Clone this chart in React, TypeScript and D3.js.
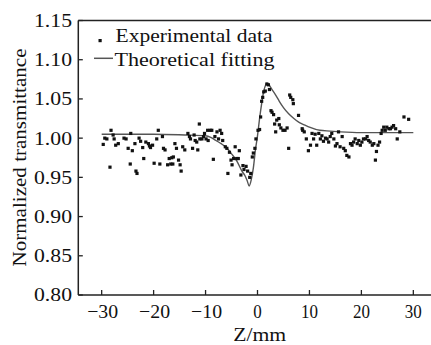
import React from "react";
import * as d3 from "d3";

const expX = [
  -29.7, -29.4, -29.0, -28.4, -28.2, -27.8, -27.6, -27.3, -26.8, -25.7, -25.3, -24.9, -24.5, -24.4, -24.1,
  -23.6, -23.4, -23.2, -22.8, -22.5, -22.1, -21.9, -21.5, -21.0, -20.8, -20.6, -20.2, -19.9, -19.4, -19.1,
  -18.8, -18.3, -18.1, -17.8, -17.3, -17.0, -16.7, -16.5, -16.3, -16.2, -15.9, -15.6, -15.2, -14.9, -14.7,
  -14.4, -14.0, -13.4, -13.1, -12.9, -12.5, -12.2, -12.0, -11.7, -11.5, -11.2, -11.1, -10.7, -10.4, -10.2,
  -9.9, -9.6, -9.5, -9.1, -8.8, -8.5, -8.2, -7.8, -7.5, -7.2, -6.9, -6.7, -6.2, -5.9, -5.7,
  -5.4, -5.1, -4.9, -4.6, -4.3, -4.0, -3.7, -3.5, -3.2, -2.8, -2.6, -2.2, -1.9, -1.5, -1.3,
  -1.0, -0.8, -0.5, -0.3, 0.1, 0.4, 0.6, 0.8, 1.0, 1.2, 1.5, 1.8, 2.1, 2.3, 2.6,
  2.8, 3.1, 3.3, 3.5, 3.7, 4.1, 4.2, 4.5, 4.9, 5.3, 5.7, 6.0, 6.2, 6.4, 6.8,
  6.9, 7.9, 8.6, 8.7, 9.0, 9.4, 9.8, 10.2, 10.5, 10.8, 11.1, 11.4, 11.8, 12.1, 12.4,
  12.7, 13.1, 13.4, 13.7, 14.0, 14.3, 14.7, 15.0, 15.3, 15.6, 15.9, 16.3, 16.6, 16.9, 17.2,
  17.6, 17.9, 18.2, 18.5, 18.8, 19.2, 19.5, 19.8, 20.1, 20.4, 20.8, 21.1, 21.4, 21.7, 22.1,
  22.4, 22.7, 22.9, 23.2, 23.5, 23.8, 24.0, 24.3, 24.6, 24.9, 25.3, 25.6, 25.9, 26.2, 26.6,
  26.9, 27.4, 28.2, 29.1,
];

const expY = [
  0.992, 1.0, 0.999, 0.963, 1.01, 1.004, 0.999, 0.991, 0.993, 1.0, 0.999, 0.987, 0.967, 1.006, 0.984,
  0.993, 0.958, 0.955, 1.0, 0.996, 0.988, 0.974, 0.995, 0.993, 0.99, 0.988, 0.991, 0.968, 0.999, 1.01,
  0.967, 1.002, 0.987, 0.985, 0.966, 0.974, 0.967, 0.975, 0.967, 0.976, 0.993, 0.987, 0.972, 0.966, 0.958,
  0.989, 0.985, 1.006, 1.002, 0.999, 0.987, 1.004, 0.997, 0.995, 0.985, 1.018, 0.999, 0.999, 1.002, 1.006,
  0.999, 1.01, 0.997, 1.01, 1.01, 0.973, 1.002, 1.008, 0.999, 1.01, 1.006, 0.997, 0.989, 0.987, 0.955,
  0.982, 0.972, 0.966, 0.974, 0.989, 0.974, 0.974, 0.984, 0.953, 0.965, 0.96, 0.964, 0.958, 0.95, 0.955,
  0.976, 0.981, 0.987, 0.999, 1.01, 1.011, 1.027, 1.047, 1.052, 1.059, 1.06, 1.069, 1.068, 1.062, 1.035,
  1.033, 1.03, 1.018, 1.008, 1.023, 1.025, 1.017, 1.013, 1.01, 1.01, 1.013, 0.987, 1.055, 1.052, 1.049,
  1.044, 1.029, 1.012, 1.01, 1.008, 0.999, 0.984, 0.991, 1.006, 0.999, 1.005, 0.991, 1.006, 0.999, 1.003,
  0.996, 1.0, 0.999, 0.995, 1.002, 1.006, 0.999, 0.99, 0.993, 1.008, 0.989, 1.002, 0.987, 0.984, 0.978,
  0.976, 0.993, 0.991, 0.995, 0.999, 0.993, 0.997, 0.991, 0.995, 0.999, 0.999, 1.002, 0.997, 0.995, 0.991,
  0.993, 0.972, 0.983, 0.991, 0.995, 1.006, 1.01, 1.014, 1.01, 1.014, 1.012, 1.012, 1.014, 1.016, 1.012,
  0.999, 1.008, 1.027, 1.024,
];

const fitX = [
  -30, -20, -14, -10, -9, -8, -7, -6, -5, -4, -3, -2.4, -2, -1.6, -1.2, -0.8, -0.4, 0, 0.4, 0.8, 1.2, 1.6,
  1.8, 2.2, 2.8, 3.5, 4.2, 5, 6, 7, 8, 9, 10, 12, 14, 16, 20, 25, 30,
];
const fitY = [
  1.005, 1.005, 1.004, 1.003, 1.001, 0.997, 0.993, 0.988, 0.98, 0.971, 0.958, 0.952, 0.946, 0.939, 0.947,
  0.962, 0.985, 1.003, 1.025, 1.044, 1.06, 1.068, 1.07, 1.068, 1.062, 1.055, 1.047, 1.039, 1.031, 1.025,
  1.02, 1.017, 1.014, 1.01, 1.009, 1.008, 1.007, 1.007, 1.007,
];

const xTicks = [-30, -20, -10, 0, 10, 20, 30];
const yTicks = [0.8, 0.85, 0.9, 0.95, 1.0, 1.05, 1.1, 1.15];

const legendLabels = ["Experimental data", "Theoretical fitting"];
const xLabel = "Z/mm";
const yLabel = "Normalized transmittance";

const W = 431;
const H = 345;
const FONT = "'Liberation Serif', 'Times New Roman', serif";

export default function App() {
  const x = d3.scaleLinear().domain([-34.5, 34.5]).range([78.3, 436.7]);
  const y = d3.scaleLinear().domain([0.8, 1.15]).range([295, 20.5]);

  const line = d3
    .line<number>()
    .x((_, i) => x(fitX[i]))
    .y((d) => y(d))
    .curve(d3.curveMonotoneX);

  const fmtX = (v: number) => (v < 0 ? "\u2212" + Math.abs(v) : String(v));
  const xLabelWidth = (s: string) => {
    let w = 0;
    for (const c of s) w += c === "\u2212" ? 14 : 8.5;
    return w;
  };

  const x0 = x.range()[0];
  const y0 = y.range()[0];
  const yTop = y.range()[1];

  return (
    <svg
      width={W}
      height={H}
      style={{ position: "absolute", left: 0, top: 0, background: "#fff" }}
      fontFamily={FONT}
    >
      {/* frame */}
      <line x1={x0} x2={W} y1={yTop} y2={yTop} stroke="#222" strokeWidth={1.5} />
      <line x1={x0} x2={W} y1={y0} y2={y0} stroke="#222" strokeWidth={1.5} />
      <line x1={x0} x2={x0} y1={yTop} y2={y0} stroke="#222" strokeWidth={1.5} />

      {/* y ticks */}
      {yTicks.map((t) => (
        <g key={"y" + t}>
          <line x1={x0} x2={x0 + 4.5} y1={y(t)} y2={y(t)} stroke="#222" strokeWidth={1.3} />
          <text
            x={72}
            y={y(t) + 6.4}
            textAnchor="end"
            fontSize={19}
            fill="#111"
            textLength={38}
            lengthAdjust="spacingAndGlyphs"
          >
            {t.toFixed(2)}
          </text>
        </g>
      ))}

      {/* x ticks */}
      {xTicks.map((t) => (
        <g key={"x" + t}>
          <line x1={x(t)} x2={x(t)} y1={y0} y2={y0 - 5} stroke="#222" strokeWidth={1.3} />
          <text
            x={x(t) + (t < 0 ? 1 : 0)}
            y={318.3}
            textAnchor="middle"
            fontSize={19}
            fill="#111"
            textLength={xLabelWidth(fmtX(t))}
            lengthAdjust="spacingAndGlyphs"
          >
            {fmtX(t)}
          </text>
        </g>
      ))}

      {/* fitting curve */}
      <path d={line(fitY) || ""} fill="none" stroke="#555" strokeWidth={1.4} />

      {/* experimental points */}
      {expY.map((v, i) => (
        <rect
          key={"p" + i}
          x={x(expX[i]) - 1.6}
          y={y(v) - 1.6}
          width={3.2}
          height={3.2}
          fill="#111"
        />
      ))}

      {/* legend */}
      <rect x={98.5} y={39} width={3.2} height={3.2} fill="#111" />
      <text
        x={115.5}
        y={42}
        fontSize={18}
        fill="#111"
        textLength={157}
        lengthAdjust="spacingAndGlyphs"
      >
        {legendLabels[0]}
      </text>
      <line x1={94} x2={113} y1={58.3} y2={58.3} stroke="#555" strokeWidth={1.5} />
      <text
        x={114.5}
        y={65.7}
        fontSize={18}
        fill="#111"
        textLength={160}
        lengthAdjust="spacingAndGlyphs"
      >
        {legendLabels[1]}
      </text>

      {/* axis labels */}
      <text
        x={259.7}
        y={340.5}
        textAnchor="middle"
        fontSize={18.5}
        fill="#111"
        textLength={53}
        lengthAdjust="spacingAndGlyphs"
      >
        {xLabel}
      </text>
      <text
        transform={`translate(25.5,157.5) rotate(-90)`}
        textAnchor="middle"
        fontSize={19}
        fill="#111"
        textLength={218}
        lengthAdjust="spacingAndGlyphs"
      >
        {yLabel}
      </text>
    </svg>
  );
}
